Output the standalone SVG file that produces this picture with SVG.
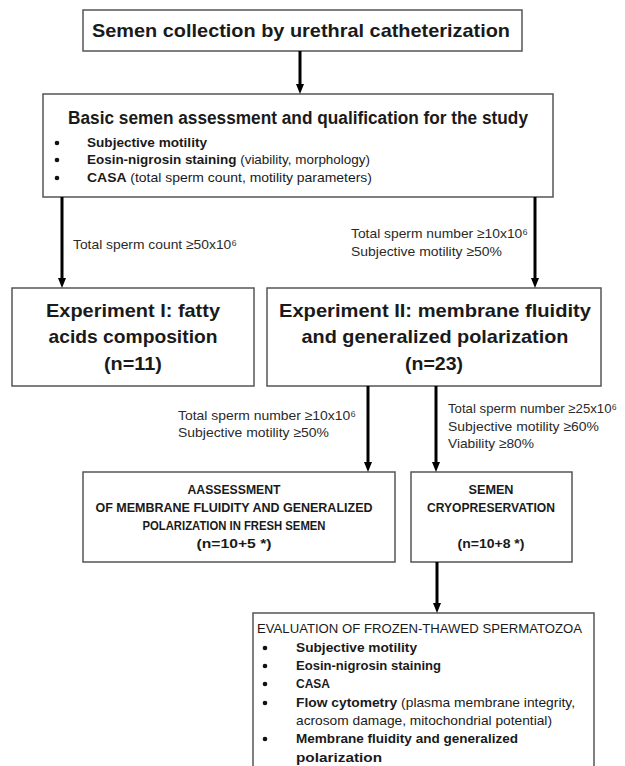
<svg xmlns="http://www.w3.org/2000/svg" width="625" height="766" viewBox="0 0 625 766">
<defs>
<marker id="ah" markerUnits="userSpaceOnUse" markerWidth="10" markerHeight="10" refX="3" refY="5" orient="auto">
<path d="M0,1 L10,5 L0,9 z" fill="#000"/>
</marker>
<style>
.box{fill:#fff;stroke:#555;stroke-width:1.5}
.t{font-family:"Liberation Sans",Arial,sans-serif;fill:#1a1a1a}
.l{fill:#2a2a2a}
.b{font-weight:bold}
.c{text-anchor:middle}
.con line{stroke:#000;stroke-width:3;marker-end:url(#ah)}
.dot{fill:#111}
</style>
</defs>
<rect width="625" height="766" fill="#fff"/>

<g id="n1">
<rect class="box" x="83" y="10" width="439" height="41"/>
<text class="t b c" x="301" y="37" font-size="19" textLength="418" lengthAdjust="spacingAndGlyphs">Semen collection by urethral catheterization</text>
</g>

<g id="n2">
<rect class="box" x="43" y="94" width="510" height="103"/>
<text class="t b" x="68" y="124" font-size="17.5" textLength="460" lengthAdjust="spacingAndGlyphs">Basic semen assessment and qualification  for the study</text>
<circle class="dot" cx="57" cy="143" r="2.3"/>
<circle class="dot" cx="57" cy="160" r="2.3"/>
<circle class="dot" cx="57" cy="178" r="2.3"/>
<text class="t b" x="87" y="147" font-size="13" textLength="120" lengthAdjust="spacingAndGlyphs">Subjective motility</text>
<text class="t" x="87" y="164" font-size="13" textLength="283" lengthAdjust="spacingAndGlyphs"><tspan class="b">Eosin-nigrosin staining</tspan> (viability, morphology)</text>
<text class="t" x="87" y="182" font-size="13" textLength="285" lengthAdjust="spacingAndGlyphs"><tspan class="b">CASA</tspan> (total sperm count, motility parameters)</text>
</g>

<g id="n3">
<rect class="box" x="12" y="288" width="242" height="98"/>
<text class="t b c" x="133" y="317" font-size="19" textLength="174" lengthAdjust="spacingAndGlyphs">Experiment I: fatty</text>
<text class="t b c" x="133" y="343" font-size="19" textLength="169" lengthAdjust="spacingAndGlyphs">acids composition</text>
<text class="t b c" x="133" y="370" font-size="19" textLength="58" lengthAdjust="spacingAndGlyphs">(n=11)</text>
</g>

<g id="n4">
<rect class="box" x="267" y="288" width="334" height="98"/>
<text class="t b c" x="435" y="317" font-size="19" textLength="312" lengthAdjust="spacingAndGlyphs">Experiment II: membrane fluidity</text>
<text class="t b c" x="435" y="343" font-size="19" textLength="267" lengthAdjust="spacingAndGlyphs">and generalized polarization</text>
<text class="t b c" x="434" y="370" font-size="19" textLength="58" lengthAdjust="spacingAndGlyphs">(n=23)</text>
</g>

<g id="n5">
<rect class="box" x="83" y="472" width="312" height="90"/>
<text class="t b c" x="234" y="494" font-size="12.5" textLength="93" lengthAdjust="spacingAndGlyphs">AASSESSMENT</text>
<text class="t b c" x="234" y="512" font-size="12.5" textLength="277" lengthAdjust="spacingAndGlyphs">OF MEMBRANE FLUIDITY AND GENERALIZED</text>
<text class="t b c" x="234" y="530" font-size="12.5" textLength="183" lengthAdjust="spacingAndGlyphs">POLARIZATION IN FRESH SEMEN</text>
<text class="t b c" x="234" y="548" font-size="12.5" textLength="75" lengthAdjust="spacingAndGlyphs">(n=10+5 *)</text>
</g>

<g id="n6">
<rect class="box" x="411" y="472" width="161" height="90"/>
<text class="t b c" x="491" y="494" font-size="12.5" textLength="45" lengthAdjust="spacingAndGlyphs">SEMEN</text>
<text class="t b c" x="491" y="512" font-size="12.5" textLength="128" lengthAdjust="spacingAndGlyphs">CRYOPRESERVATION</text>
<text class="t b c" x="491" y="548" font-size="12.5" textLength="67" lengthAdjust="spacingAndGlyphs">(n=10+8 *)</text>
</g>

<g id="n7">
<rect class="box" x="253" y="613" width="341" height="170"/>
<text class="t" x="257" y="633" font-size="13.5" textLength="325" lengthAdjust="spacingAndGlyphs">EVALUATION OF FROZEN-THAWED SPERMATOZOA</text>
<circle class="dot" cx="265" cy="648" r="2.3"/>
<circle class="dot" cx="265" cy="666" r="2.3"/>
<circle class="dot" cx="265" cy="684" r="2.3"/>
<circle class="dot" cx="265" cy="703" r="2.3"/>
<circle class="dot" cx="265" cy="739" r="2.3"/>
<text class="t b" x="296" y="652" font-size="13.5" textLength="121" lengthAdjust="spacingAndGlyphs">Subjective motility</text>
<text class="t b" x="296" y="670" font-size="13.5" textLength="145" lengthAdjust="spacingAndGlyphs">Eosin-nigrosin staining</text>
<text class="t b" x="296" y="688" font-size="13.5" textLength="34" lengthAdjust="spacingAndGlyphs">CASA</text>
<text class="t" x="296" y="707" font-size="13.5" textLength="279" lengthAdjust="spacingAndGlyphs"><tspan class="b">Flow cytometry</tspan> (plasma membrane integrity,</text>
<text class="t" x="296" y="725" font-size="13.5" textLength="256" lengthAdjust="spacingAndGlyphs">acrosom damage, mitochondrial  potential)</text>
<text class="t b" x="296" y="743" font-size="13.5" textLength="222" lengthAdjust="spacingAndGlyphs">Membrane fluidity and generalized</text>
<text class="t b" x="296" y="762" font-size="13.5" textLength="86" lengthAdjust="spacingAndGlyphs">polarization</text>
</g>

<g id="connectors">
<g class="con">
<line x1="300" y1="51" x2="300" y2="87"/>
<line x1="62" y1="197" x2="62" y2="281"/>
<line x1="535" y1="197" x2="535" y2="281"/>
<line x1="368" y1="386" x2="368" y2="465"/>
<line x1="436" y1="386" x2="436" y2="465"/>
<line x1="437" y1="562" x2="437" y2="606"/>
</g>
<text class="t l" x="73" y="249" font-size="13.5" textLength="164" lengthAdjust="spacingAndGlyphs">Total sperm count ≥50x10⁶</text>
<text class="t l" x="351" y="238" font-size="13.5" textLength="177" lengthAdjust="spacingAndGlyphs">Total sperm number ≥10x10⁶</text>
<text class="t l" x="351" y="256" font-size="13.5" textLength="151" lengthAdjust="spacingAndGlyphs">Subjective motility ≥50%</text>
<text class="t l" x="178" y="420" font-size="13.5" textLength="178" lengthAdjust="spacingAndGlyphs">Total sperm number ≥10x10⁶</text>
<text class="t l" x="178" y="437" font-size="13.5" textLength="151" lengthAdjust="spacingAndGlyphs">Subjective motility ≥50%</text>
<text class="t l" x="448" y="413" font-size="13.5" textLength="169" lengthAdjust="spacingAndGlyphs">Total sperm number ≥25x10⁶</text>
<text class="t l" x="448" y="431" font-size="13.5" textLength="151" lengthAdjust="spacingAndGlyphs">Subjective motility ≥60%</text>
<text class="t l" x="448" y="448" font-size="13.5" textLength="86" lengthAdjust="spacingAndGlyphs">Viability ≥80%</text>
</g>
</svg>
